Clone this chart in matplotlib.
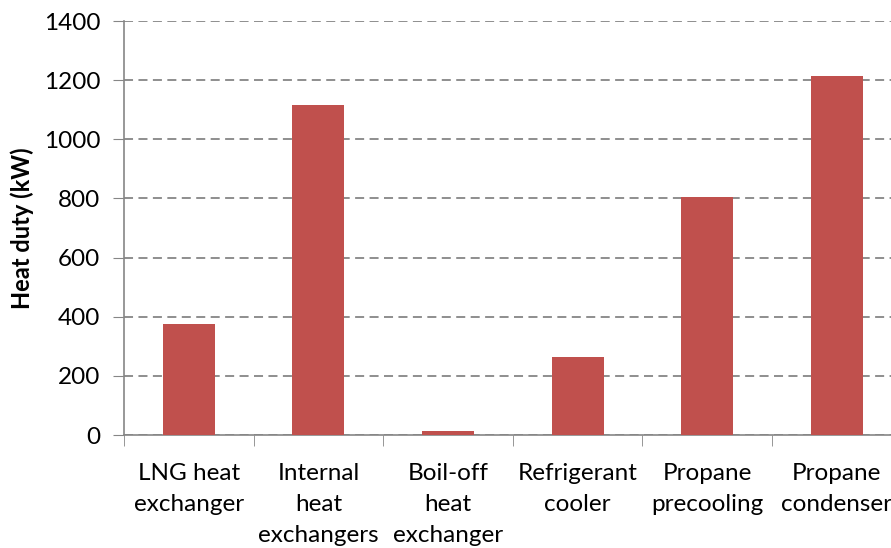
import matplotlib.pyplot as plt
import numpy as np

categories = ["LNG heat\nexchanger", "Internal\nheat\nexchangers", "Boil-off\nheat\nexchanger",
              "Refrigerant\ncooler", "Propane\nprecooling", "Propane\ncondenser"]
heat_duty = [375, 1116, 12, 264, 805, 1214]

plt.rcParams['font.family'] = ['Lato', 'DejaVu Sans']
grey = '#868686'

fig = plt.figure(figsize=(8.91, 5.48), dpi=100)
ax = fig.add_axes([124/891, 113/548, 777.6/891, 414/548])

x = np.arange(len(categories))
ax.bar(x, heat_duty, width=0.4, color='#C0504D', zorder=3)

ax.set_xlim(-0.5, len(categories) - 0.5)
ax.set_ylim(0, 1400)
ax.set_yticks(np.arange(0, 1401, 200))
ax.set_xticks(x)
ax.set_xticklabels(categories, fontsize=17.5, linespacing=1.6, va='top')
ax.set_xticks(np.arange(-0.5, len(categories), 1), minor=True)
ax.tick_params(axis='x', which='major', length=0, pad=20)
ax.tick_params(axis='x', which='minor', length=8, color=grey, direction='out')
ax.tick_params(axis='y', length=8, color=grey, direction='out', labelsize=17.5, pad=9)

ax.yaxis.grid(True, color=grey, linestyle=(0, (5, 3)), linewidth=1.3, zorder=0)
for s in ['top', 'right']:
    ax.spines[s].set_visible(False)
for s in ['left', 'bottom']:
    ax.spines[s].set_color(grey)
    ax.spines[s].set_linewidth(1.2)

ax.set_ylabel('Heat duty (kW)', fontsize=17, fontweight='bold', labelpad=7)

plt.savefig('out.png', dpi=100)
